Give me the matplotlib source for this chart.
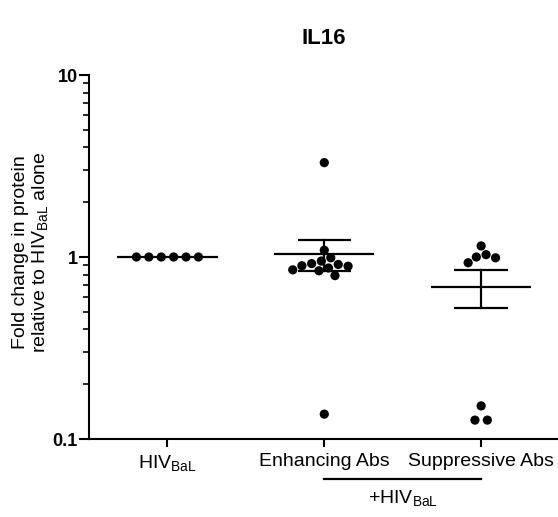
import numpy as np
import matplotlib
matplotlib.use("Agg")
import matplotlib.pyplot as plt
from matplotlib.ticker import FixedLocator, FixedFormatter, NullFormatter
import matplotlib.transforms as mtransforms

plt.rcParams['font.family'] = ['Liberation Sans', 'DejaVu Sans']
plt.rcParams['mathtext.fontset'] = 'custom'
plt.rcParams['mathtext.rm'] = 'Liberation Sans'
plt.rcParams['mathtext.it'] = 'Liberation Sans:italic'
plt.rcParams['mathtext.bf'] = 'Liberation Sans:bold'

# Fold change in IL16 protein relative to HIV BaL alone
groups = [r'HIV$_{\mathrm{BaL}}$', 'Enhancing Abs', 'Suppressive Abs']
hiv_bal = [1.0, 1.0, 1.0, 1.0, 1.0, 1.0]
enhancing = [3.3, 1.09, 0.89, 0.95, 0.87, 0.92, 0.84, 0.91, 0.79, 0.85,
             0.99, 0.895, 0.137]
suppressive = [1.0, 0.93, 1.15, 0.99, 1.03, 0.152, 0.127, 0.127]
series = [hiv_bal, enhancing, suppressive]
ytick_values = [0.1, 1, 10]
ytick_labels = ['0.1', '1', '10']

W, H, DPI = 558, 517, 100
fig = plt.figure(figsize=(W / DPI, H / DPI), dpi=DPI)
ax = fig.add_axes([89 / W, 78 / H, (W - 89) / W, 364 / H])
ax.set_yscale('log')
ax.set_ylim(0.1, 10)
ax.set_xlim(-0.5, 2.49)

for side in ('top', 'right'):
    ax.spines[side].set_visible(False)
for side in ('left', 'bottom'):
    ax.spines[side].set_linewidth(1.5)

ax.yaxis.set_major_locator(FixedLocator(ytick_values))
ax.yaxis.set_major_formatter(FixedFormatter(ytick_labels))
ax.yaxis.set_minor_locator(FixedLocator(
    [m * 10.0 ** e for e in (-1, 0) for m in range(2, 10)]))
ax.yaxis.set_minor_formatter(NullFormatter())
ax.tick_params(axis='y', which='major', length=7, width=1.5, labelsize=13, pad=1)
ax.tick_params(axis='y', which='minor', length=4, width=1.2)
for lab in ax.get_yticklabels():
    lab.set_fontweight('bold')

ax.set_xticks(range(len(groups)))
ax.set_xticklabels(groups, fontsize=14)
ax.tick_params(axis='x', length=6, width=1.5, pad=4)


def swarm_offsets(values, diameter_px, tie_px):
    """Beeswarm offsets (in pixels) for one column of points."""
    ypix = ax.transData.transform(
        np.column_stack([np.zeros(len(values)), values]))[:, 1]
    order = np.argsort(-ypix)
    placed = []
    xs = np.zeros(len(values))
    for i in order:
        y = ypix[i]
        cands = [0.0]
        for (px, py) in placed:
            dy = abs(py - y)
            if dy < diameter_px:
                dx = np.sqrt(diameter_px ** 2 - dy ** 2)
                cands += [px + dx + 1e-6, px - dx - 1e-6]
        cands.sort(key=lambda c: (abs(c), c < 0))
        for c in cands:
            if all((c - px) ** 2 + (y - py) ** 2 >= diameter_px ** 2 - 1e-3
                   for px, py in placed):
                xs[i] = c
                placed.append((c, y))
                break
    # identical values sit side by side in a centred row
    vals = np.asarray(values)
    for v in np.unique(vals):
        idx = np.where(vals == v)[0]
        if len(idx) > 1:
            xs[idx] = (np.arange(len(idx)) - (len(idx) - 1) / 2) * tie_px
    return xs


px_per_unit = ax.get_window_extent().width / (ax.get_xlim()[1] - ax.get_xlim()[0])
mean_half, cap_half = 0.32, 0.17
for gi, vals in enumerate(series):
    vals = np.asarray(vals, dtype=float)
    offs = swarm_offsets(vals, 10.0, 12.4) / px_per_unit
    ax.scatter(gi + offs, vals, s=44, color='black', edgecolors='none',
               zorder=3, clip_on=False)
    m = vals.mean()
    sem = vals.std(ddof=1) / np.sqrt(len(vals))
    ax.plot([gi - mean_half, gi + mean_half], [m, m], color='black', lw=1.6,
            zorder=4, solid_capstyle='butt')
    if sem > 0:
        ax.plot([gi, gi], [m - sem, m + sem], color='black', lw=1.6, zorder=4)
        for yv in (m - sem, m + sem):
            ax.plot([gi - cap_half, gi + cap_half], [yv, yv], color='black',
                    lw=1.6, zorder=4, solid_capstyle='butt')

# Bracket under the two antibody groups
blend = mtransforms.blended_transform_factory(ax.transData, fig.transFigure)
ax.plot([1, 2], [1 - 479 / H, 1 - 479 / H], color='black', lw=1.6,
        transform=blend, clip_on=False)
ax.text(1.5, 1 - 498 / H, r'+HIV$_{\mathrm{BaL}}$', transform=blend,
        ha='center', va='center', fontsize=14)

fig.text(324 / W, 1 - 39 / H, 'IL16', ha='center', va='center',
         fontsize=16, fontweight='bold')
fig.text(31 / W, 1 - 252 / H,
         'Fold change in protein\nrelative to HIV$_{\\mathrm{BaL}}$ alone',
         rotation=90, ha='center', va='center', fontsize=14,
         linespacing=1.05)

fig.savefig('out.png', dpi=DPI)
